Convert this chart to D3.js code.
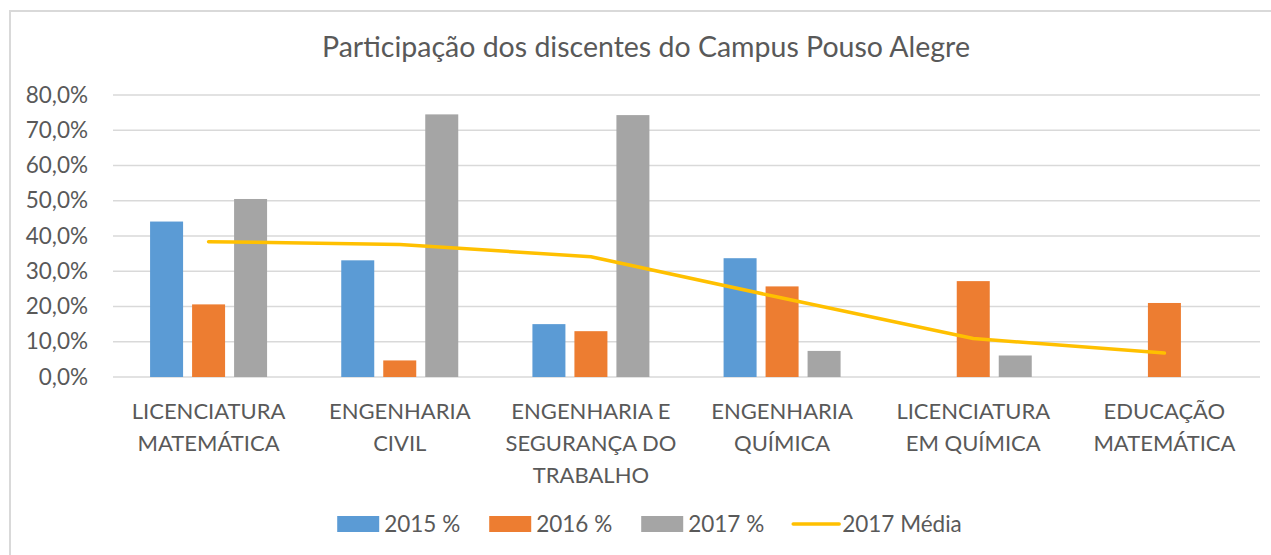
<!DOCTYPE html>
<html>
<head>
<meta charset="utf-8">
<script src="https://cdn.jsdelivr.net/npm/d3@7"></script>
<style>
  html, body { margin: 0; padding: 0; background: #fff; }
  svg { display: block; }
  text { font-family: Lato, "Open Sans", sans-serif; fill: #595959; }
</style>
</head>
<body>
<svg id="chart" width="1271" height="555"></svg>
<script>
// ---- data ----
const categories = ["LICENCIATURA MATEMÁTICA", "ENGENHARIA CIVIL", "ENGENHARIA E SEGURANÇA DO TRABALHO", "ENGENHARIA QUÍMICA", "LICENCIATURA EM QUÍMICA", "EDUCAÇÃO MATEMÁTICA"];
const categoryLines = [["LICENCIATURA", "MATEMÁTICA"], ["ENGENHARIA", "CIVIL"], ["ENGENHARIA E", "SEGURANÇA DO", "TRABALHO"], ["ENGENHARIA", "QUÍMICA"], ["LICENCIATURA", "EM QUÍMICA"], ["EDUCAÇÃO", "MATEMÁTICA"]];
const seriesNames = ["2015 %", "2016 %", "2017 %"];
const values2015 = [44.1, 33.1, 15.0, 33.7, null, null];
const values2016 = [20.6, 4.7, 13.0, 25.7, 27.2, 21.0];
const values2017 = [50.5, 74.5, 74.3, 7.4, 6.1, null];
const media2017 = [38.4, 37.6, 34.1, 22.4, 10.9, 6.8];
const lineName = "2017 Média";
const yTicks = [0, 10, 20, 30, 40, 50, 60, 70, 80];
const title = "Participação dos discentes do Campus Pouso Alegre";

const colors = ["#5B9BD5", "#ED7D31", "#A5A5A5"];
const lineColor = "#FFC000";
const seriesValues = [values2015, values2016, values2017];

// ---- layout ----
const svg = d3.select("#chart");
const plotLeft = 113, plotRight = 1260, plotTop = 95, plotBottom = 377;

// chart border
svg.append("rect").attr("x", 10).attr("y", 11).attr("width", 1400).attr("height", 700)
  .attr("fill", "none").attr("stroke", "#d9d9d9").attr("stroke-width", 2);

const y = d3.scaleLinear().domain([0, 80]).range([plotBottom, plotTop]);
const x0 = d3.scaleBand().domain(categories).range([plotLeft, plotRight]).padding(0);
const step = x0.step();
const groupW = 117;
const x1 = d3.scaleBand().domain(seriesNames)
  .range([(step - groupW) / 2, (step + groupW) / 2]).paddingInner(9 / 42).paddingOuter(0);

// gridlines
svg.append("g").selectAll("line").data(yTicks).join("line")
  .attr("x1", plotLeft).attr("x2", plotRight)
  .attr("y1", d => y(d)).attr("y2", d => y(d))
  .attr("stroke", "#d9d9d9").attr("stroke-width", 1.5);

// y axis labels
const fmt = d => d3.format(".1f")(d).replace(".", ",") + "%";
const yAxis = d3.axisLeft(y).tickValues(yTicks).tickFormat(fmt).tickSize(0).tickPadding(0);
const gy = svg.append("g").attr("transform", "translate(88,0)").call(yAxis);
gy.select(".domain").remove();
gy.selectAll("text").attr("font-size", 22.5).attr("fill", "#595959")
  .style("font-family", "Lato, 'Open Sans', sans-serif");

// bars
const groups = svg.append("g").selectAll("g").data(categories).join("g")
  .attr("transform", d => `translate(${x0(d)},0)`);
groups.selectAll("rect")
  .data((c, i) => seriesNames.map((s, j) => ({ s, j, v: seriesValues[j][i] })).filter(d => d.v != null))
  .join("rect")
  .attr("x", d => x1(d.s))
  .attr("width", x1.bandwidth())
  .attr("y", d => y(d.v))
  .attr("height", d => y(0) - y(d.v))
  .attr("fill", d => colors[d.j]);

// line
const line = d3.line()
  .x((d, i) => x0(categories[i]) + step / 2)
  .y(d => y(d));
svg.append("path").datum(media2017)
  .attr("d", line)
  .attr("fill", "none").attr("stroke", lineColor).attr("stroke-width", 3.5)
  .attr("stroke-linecap", "round").attr("stroke-linejoin", "round");

// category labels
const cl = svg.append("g").selectAll("text").data(categories).join("text")
  .attr("text-anchor", "middle").attr("font-size", 22)
  .attr("transform", d => `translate(${x0(d) + step / 2},0)`);
cl.selectAll("tspan").data((d, i) => categoryLines[i]).join("tspan")
  .attr("x", 0).attr("y", (d, k) => 411 + k * 32).attr("dy", "0.35em").text(d => d);

// title
svg.append("text").attr("x", 646).attr("y", 47).attr("dy", "0.35em")
  .attr("text-anchor", "middle").attr("font-size", 28.5).text(title);

// legend
const legend = svg.append("g");
const items = seriesNames.map((s, j) => ({ name: s, type: "bar", color: colors[j] }))
  .concat([{ name: lineName, type: "line", color: lineColor }]);
let lx = 0;
const ly = 524;
items.forEach((it, idx) => {
  const g = legend.append("g").attr("transform", `translate(${lx},0)`);
  if (it.type === "bar") {
    g.append("rect").attr("x", 0).attr("y", ly - 8).attr("width", 42).attr("height", 16).attr("fill", it.color);
  } else {
    g.append("line").attr("x1", 0).attr("x2", 46).attr("y1", ly).attr("y2", ly)
      .attr("stroke", it.color).attr("stroke-width", 3.5).attr("stroke-linecap", "round");
  }
  const tx = it.type === "bar" ? 47 : 49;
  const t = g.append("text").attr("x", tx).attr("y", ly).attr("dy", "0.35em")
    .attr("font-size", 22.5).text(it.name);
  lx += tx + t.node().getComputedTextLength() + 29;
});
const totalW = lx - 29;
legend.attr("transform", `translate(${649.5 - totalW / 2},0)`);
</script>
</body>
</html>
